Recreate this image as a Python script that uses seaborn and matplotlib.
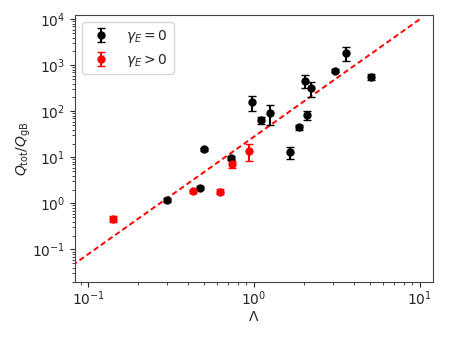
import matplotlib
matplotlib.use('Agg')
import matplotlib.pyplot as plt
from matplotlib.ticker import LogLocator, NullFormatter
import numpy as np
import pandas as pd
import seaborn as sns

# gamma_E = 0 points
lam_zero = [0.30, 0.469, 0.502, 0.724, 0.977, 1.10, 1.24, 1.64, 1.86, 2.02, 2.10, 2.20, 3.10, 3.58, 5.05]
q_zero = [1.18, 2.2, 15.0, 9.8, 160, 64, 92, 13.2, 45, 465, 84, 324, 764, 1870, 568]
err_zero = [0.1, 0.15, 1.0, 1.0, 60, 12, 42, 3.9, 5, 145, 19, 117, 60, 600, 80]

# gamma_E > 0 points
lam_pos = [0.140, 0.43, 0.62, 0.736, 0.93]
q_pos = [0.46, 1.85, 1.80, 7.2, 14.0]
err_pos = [0.06, 0.15, 0.23, 1.2, 5.5]

# dashed scaling line
line_lam = [0.08, 10.0]
line_exp = 2.55
line_q10 = 1e4

sns.set_style("ticks")
plt.rcParams['font.family'] = ['DejaVu Sans']

fig = plt.figure(figsize=(4.49, 3.37), dpi=100)
ax = fig.add_axes([0.167, 0.163, 0.797, 0.792])

xs = np.logspace(np.log10(line_lam[0]), np.log10(line_lam[1]), 50)
line_df = pd.DataFrame({'lam': xs, 'q': line_q10 * (xs / 10.0) ** line_exp})
sns.lineplot(data=line_df, x='lam', y='q', ax=ax, color='red', lw=1.4, dashes=False)
ax.lines[0].set_dashes([2.8, 1.7])

ax.errorbar(lam_zero, q_zero, yerr=err_zero, fmt='o', color='black', ms=5, capsize=3,
            label=r'$\gamma_E = 0$')
ax.errorbar(lam_pos, q_pos, yerr=err_pos, fmt='o', color='red', ms=5, capsize=3,
            label=r'$\gamma_E > 0$')

ax.set_xscale('log')
ax.set_yscale('log')
ax.set_xlim(0.083, 12.0)
ax.set_ylim(0.0195, 12300)
ax.yaxis.set_minor_locator(LogLocator(base=10, subs=np.arange(2, 10), numticks=30))
ax.yaxis.set_minor_formatter(NullFormatter())
ax.set_xlabel(r'$\Lambda$', fontsize=10, labelpad=1)
ax.set_ylabel(r'$Q_{\rm tot}/Q_{\rm gB}$', fontsize=10, labelpad=-1)
ax.tick_params(labelsize=10)
ax.tick_params(axis='x', which='major', pad=2)
for s in ax.spines.values():
    s.set_visible(True)
    s.set_color('#444444')
ax.legend(loc='upper left', fontsize=10)

fig.savefig('out.png', dpi=100)
